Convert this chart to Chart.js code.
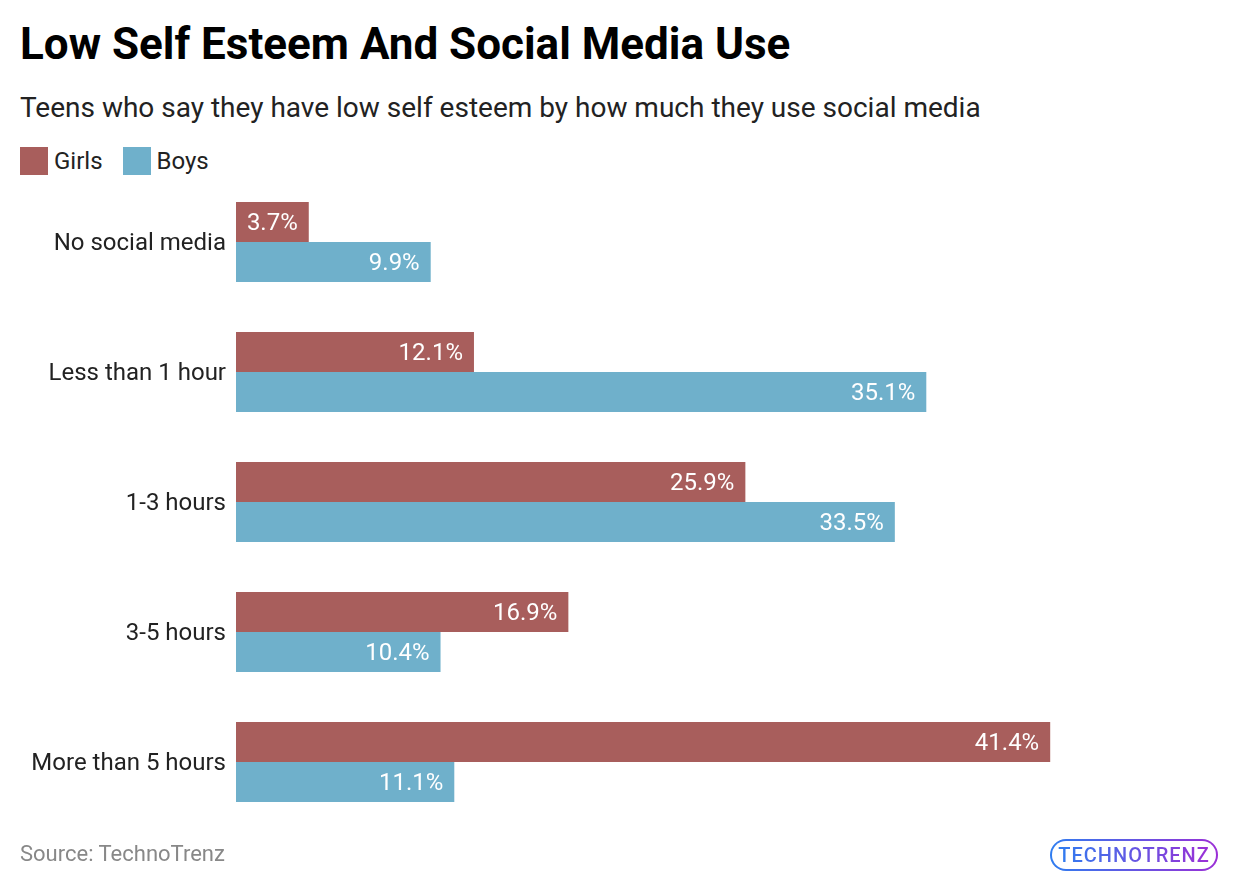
<!DOCTYPE html>
<html>
<head>
<meta charset="utf-8">
<script src="https://cdn.jsdelivr.net/npm/chart.js@4"></script>
<style>
  html, body { margin: 0; padding: 0; background: #fff; }
  body { width: 1240px; height: 890px; position: relative; overflow: hidden; font-family: Roboto, sans-serif; }
  #title { position: absolute; left: 20px; top: 18px; font-size: 44px; font-weight: 700; color: #000; white-space: nowrap; }
  #subtitle { position: absolute; left: 20px; top: 91px; font-size: 28px; color: #222; white-space: nowrap; }
  #legend { position: absolute; left: 20px; top: 147px; display: flex; font-size: 24px; color: #222; }
  #legend span { display: flex; align-items: center; margin-right: 20px; }
  #legend i { display: inline-block; width: 28px; height: 28px; margin-right: 6px; }
  #source { position: absolute; left: 20px; top: 841px; font-size: 22px; color: #888; }
  #logo { position: absolute; left: 1050px; top: 839px; width: 168px; height: 32px; border-radius: 16px;
          border: 2px solid transparent; box-sizing: border-box;
          background: linear-gradient(#fff, #fff) padding-box, linear-gradient(90deg, #2f7df0, #9b2fd6) border-box;
          display: flex; align-items: center; justify-content: center; }
  #logo b { font-size: 20px; font-weight: 500; letter-spacing: 1px;
            background: linear-gradient(90deg, #2f7df0, #9b2fd6); -webkit-background-clip: text; color: transparent; }
  #wrap { position: absolute; left: 0; top: 0; width: 1240px; height: 890px; }
</style>
</head>
<body>
<div id="title">Low Self Esteem And Social Media Use</div>
<div id="subtitle">Teens who say they have low self esteem by how much they use social media</div>
<div id="legend">
  <span><i style="background:#a85e5c"></i>Girls</span>
  <span><i style="background:#6fb0cb"></i>Boys</span>
</div>
<div id="wrap"><canvas id="chart"></canvas></div>
<div id="source">Source: TechnoTrenz</div>
<div id="logo"><b>TECHNOTRENZ</b></div>
<script>
"use strict";

const categories = ["No social media", "Less than 1 hour", "1-3 hours", "3-5 hours", "More than 5 hours"];
const girls = [3.7, 12.1, 25.9, 16.9, 41.4];
const boys = [9.9, 35.1, 33.5, 10.4, 11.1];

const valueLabels = {
  id: "valueLabels",
  afterDatasetsDraw(chart) {
    const c = chart.ctx;
    c.save();
    c.font = "24px Roboto, sans-serif";
    c.fillStyle = "#fff";
    c.textAlign = "right";
    c.textBaseline = "middle";
    chart.data.datasets.forEach((ds, i) => {
      chart.getDatasetMeta(i).data.forEach((bar, j) => {
        c.fillText(ds.data[j].toFixed(1) + "%", bar.x - 11, bar.y + 2);
      });
    });
    c.restore();
  },
};

new Chart(document.getElementById("chart"), {
  type: "bar",
  data: {
    labels: categories,
    datasets: [
      { label: "Girls", data: girls, backgroundColor: "#a85e5c" },
      { label: "Boys", data: boys, backgroundColor: "#6fb0cb" },
    ],
  },
  options: {
    indexAxis: "y",
    responsive: true,
    maintainAspectRatio: false,
    animation: false,
    categoryPercentage: 80 / 130,
    barPercentage: 1,
    layout: {
      padding: { top: 177, bottom: 63, left: 0, right: 119 },
    },
    scales: {
      x: {
        display: false,
        min: 0,
        max: 45,
      },
      y: {
        afterFit: (scale) => { scale.width = 236; },
        border: { display: false },
        grid: { display: false, drawTicks: false },
        ticks: {
          padding: 10,
          labelOffset: 2,
          color: "#222",
          font: { family: "Roboto, sans-serif", size: 24 },
        },
      },
    },
    plugins: {
      legend: { display: false },
      tooltip: { enabled: false },
    },
  },
  plugins: [valueLabels],
});
</script>
</body>
</html>
